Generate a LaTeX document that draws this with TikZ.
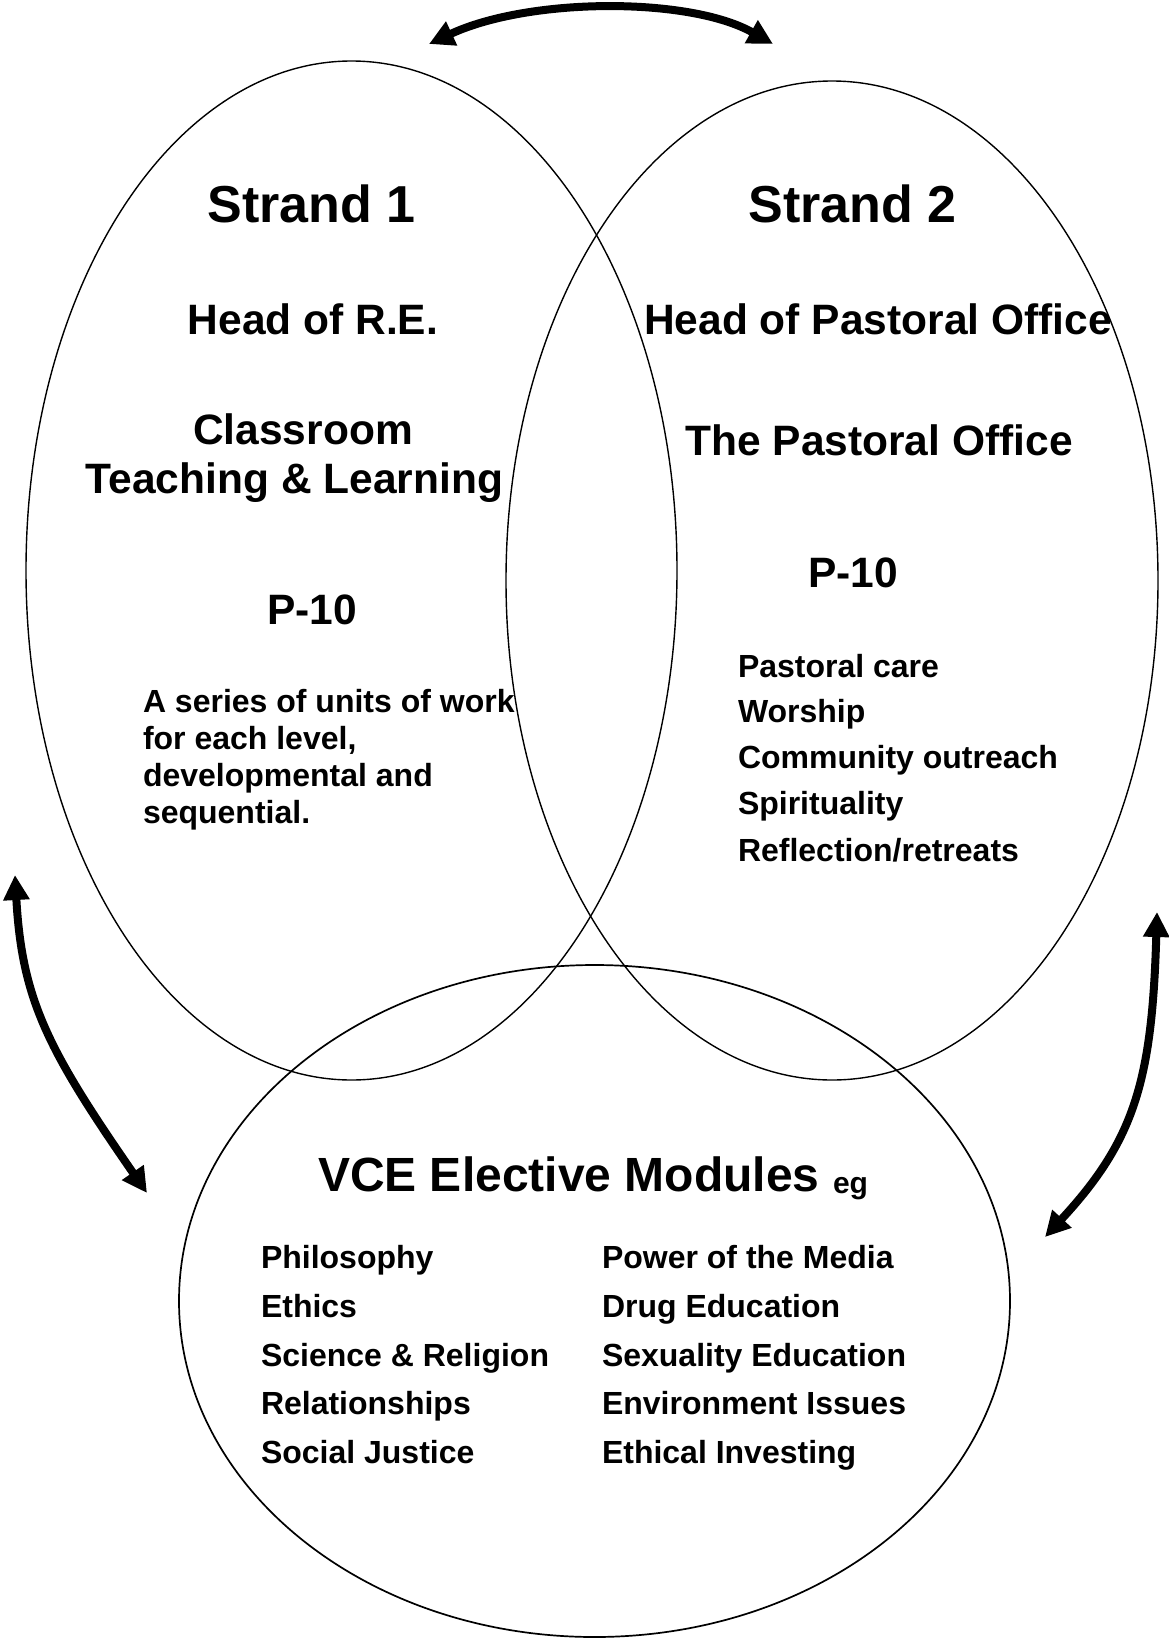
\documentclass[tikz,border=0pt]{standalone}
\usepackage{fontspec}
\setmainfont{Liberation Sans}
\usetikzlibrary{arrows.meta,shapes.geometric}
\begin{document}
\begin{tikzpicture}[x=1pt,y=-1pt,
  every node/.style={inner sep=0pt, outer sep=0pt},
  ring/.style={draw=black, ellipse, line width=1.4pt},
  link/.style={line width=8pt, {Triangle[length=25pt,width=25pt]}-{Triangle[length=25pt,width=25pt]}},
  huge/.style={font=\fontsize{52}{60}\selectfont\bfseries},
  title/.style={font=\fontsize{48}{56}\selectfont\bfseries},
  mid/.style={font=\fontsize{42.5}{50}\selectfont\bfseries},
  small/.style={font=\fontsize{32}{38}\selectfont\bfseries},
  tiny/.style={font=\fontsize{30}{36}\selectfont\bfseries}
]
\useasboundingbox (0,0) rectangle (1169,1641);

% ellipses
\node[ring, minimum width=651pt, minimum height=1019pt] (s1) at (351.5,570.5) {};
\node[ring, minimum width=652pt, minimum height=999pt] (s2) at (832,580.5) {};
\node[ring, line width=1.7pt, minimum width=831pt, minimum height=672pt] (vce) at (594.5,1301) {};

% strand 1
\node[huge, anchor=base] (t1) at (311.5,222) {Strand 1};
\node[mid, anchor=base] (h1) at (313,334) {Head of R.E.};
\node[mid, anchor=base] (c1) at (303,444) {Classroom};
\node[mid, anchor=base] (c2) at (294.5,493.5) {Teaching \& Learning};
\node[mid, anchor=base] (p1) at (312,624) {P-10};
\node[small, anchor=base west] (a1) at (143,712) {A series of units of work};
\node[small, anchor=base west] (a2) at (143,749) {for each level,};
\node[small, anchor=base west] (a3) at (143,786) {developmental and};
\node[small, anchor=base west] (a4) at (143,823) {sequential.};

% strand 2
\node[huge, anchor=base] (t2) at (852.5,222) {Strand 2};
\node[mid, anchor=base] (h2) at (878,334) {Head of Pastoral Office};
\node[mid, anchor=base] (o2) at (879,455) {The Pastoral Office};
\node[mid, anchor=base] (p2) at (853,587) {P-10};
\node[small, anchor=base west] (b1) at (738,677) {Pastoral care};
\node[small, anchor=base west] (b2) at (738,722) {Worship};
\node[small, anchor=base west] (b3) at (738,768) {Community outreach};
\node[small, anchor=base west] (b4) at (738,814) {Spirituality};
\node[small, anchor=base west] (b5) at (738,861) {Reflection/retreats};

% VCE
\node[title, anchor=base west] (v0) at (318,1191) {VCE Elective Modules};
\node[tiny, anchor=base west] (eg) at (833,1193) {eg};
\node[small, anchor=base west] (l1) at (261,1268) {Philosophy};
\node[small, anchor=base west] (l2) at (261,1317) {Ethics};
\node[small, anchor=base west] (l3) at (261,1366) {Science \& Religion};
\node[small, anchor=base west] (l4) at (261,1414) {Relationships};
\node[small, anchor=base west] (l5) at (261,1463) {Social Justice};
\node[small, anchor=base west] (r1) at (602,1268) {Power of the Media};
\node[small, anchor=base west] (r2) at (602,1317) {Drug Education};
\node[small, anchor=base west] (r3) at (602,1366) {Sexuality Education};
\node[small, anchor=base west] (r4) at (602,1414) {Environment Issues};
\node[small, anchor=base west] (r5) at (602,1463) {Ethical Investing};

% arrow ends
\coordinate (ta) at (429,44);
\coordinate (tb) at (773,44);
\coordinate (la) at (15,875);
\coordinate (lb) at (147,1193);
\coordinate (ra) at (1157,912);
\coordinate (rb) at (1045,1237);

\draw[link] (ta) .. controls (530,-3) and (690,-3) .. (tb);
\draw[link] (la) .. controls (22,1000) and (48,1050) .. (lb);
\draw[link] (ra) .. controls (1152,1080) and (1135,1140) .. (rb);
\end{tikzpicture}
\end{document}
